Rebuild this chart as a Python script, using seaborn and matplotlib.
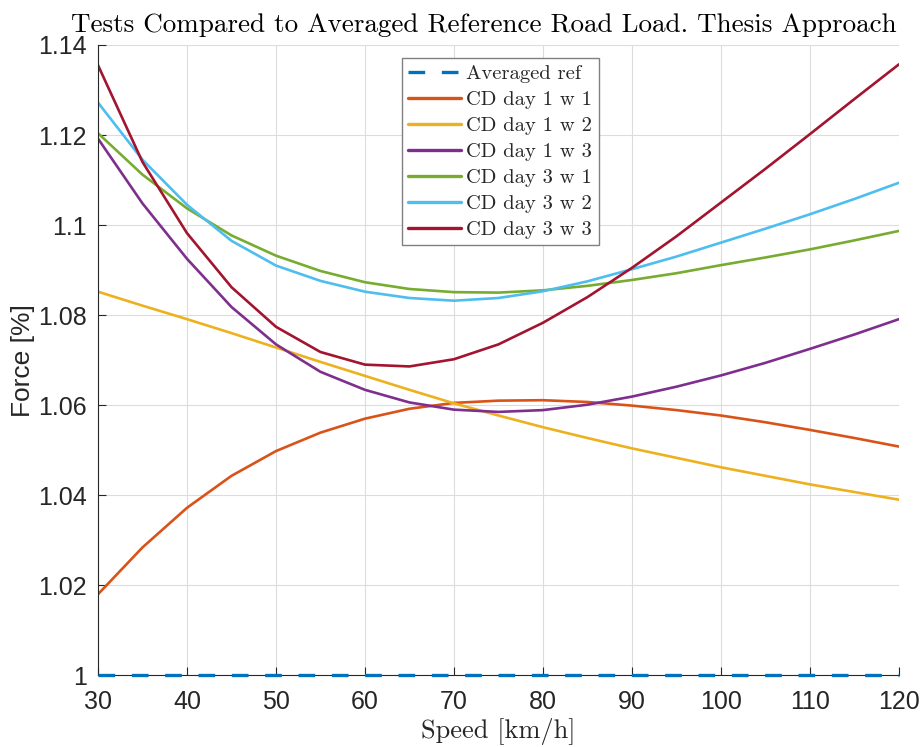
import numpy as np
import pandas as pd
import matplotlib
matplotlib.use("Agg")
import matplotlib.pyplot as plt
import seaborn as sns

speed = [30, 35, 40, 45, 50, 55, 60, 65, 70, 75, 80, 85, 90, 95, 100, 105, 110, 115, 120]

averaged_ref = [1.0] * 19
cd_day1_w1 = [1.0180, 1.0284, 1.0372, 1.0443, 1.0498, 1.0539, 1.0570, 1.0592, 1.0605, 1.0610,
              1.0611, 1.0607, 1.0599, 1.0589, 1.0577, 1.0562, 1.0545, 1.0527, 1.0508]
cd_day1_w2 = [1.0852, 1.0821, 1.0791, 1.0760, 1.0728, 1.0696, 1.0665, 1.0634, 1.0604, 1.0577,
              1.0551, 1.0527, 1.0504, 1.0483, 1.0462, 1.0443, 1.0424, 1.0407, 1.0390]
cd_day1_w3 = [1.1192, 1.1048, 1.0925, 1.0818, 1.0735, 1.0674, 1.0634, 1.0606, 1.0590, 1.0585,
              1.0589, 1.0601, 1.0619, 1.0641, 1.0666, 1.0694, 1.0725, 1.0757, 1.0791]
cd_day3_w1 = [1.1204, 1.1112, 1.1037, 1.0977, 1.0932, 1.0898, 1.0873, 1.0858, 1.0851, 1.0850,
              1.0855, 1.0865, 1.0878, 1.0893, 1.0911, 1.0928, 1.0946, 1.0966, 1.0987]
cd_day3_w2 = [1.1272, 1.1145, 1.1045, 1.0965, 1.0910, 1.0876, 1.0852, 1.0838, 1.0832, 1.0838,
              1.0853, 1.0875, 1.0902, 1.0930, 1.0961, 1.0992, 1.1024, 1.1058, 1.1094]
cd_day3_w3 = [1.1355, 1.1140, 1.0982, 1.0862, 1.0774, 1.0718, 1.0690, 1.0686, 1.0702, 1.0735,
              1.0783, 1.0840, 1.0905, 1.0975, 1.1050, 1.1125, 1.1202, 1.1280, 1.1357]

series_names = ["Averaged ref", "CD day 1 w 1", "CD day 1 w 2", "CD day 1 w 3",
                "CD day 3 w 1", "CD day 3 w 2", "CD day 3 w 3"]
series_values = [averaged_ref, cd_day1_w1, cd_day1_w2, cd_day1_w3,
                 cd_day3_w1, cd_day3_w2, cd_day3_w3]
colors = ["#0072BD", "#D95319", "#EDB120", "#7E2F8E", "#77AC30", "#4DBEEE", "#A2142F"]

y_ticks = [1.0, 1.02, 1.04, 1.06, 1.08, 1.1, 1.12, 1.14]
y_tick_labels = ["1", "1.02", "1.04", "1.06", "1.08", "1.1", "1.12", "1.14"]
x_ticks = [30, 40, 50, 60, 70, 80, 90, 100, 110, 120]

rows = []
for name, vals in zip(series_names, series_values):
    for s, v in zip(speed, vals):
        rows.append({"Speed": s, "Force": v, "Series": name})
df = pd.DataFrame(rows)

sns.set_theme(style="white")
plt.rcParams["font.family"] = ["Liberation Sans", "DejaVu Sans"]

fig = plt.figure(figsize=(9.22, 7.47), dpi=100)
ax = fig.add_axes([0.1063, 0.096, 0.975 - 0.1063, 0.9398 - 0.096])

palette = dict(zip(series_names, colors))
dashes = {n: "" for n in series_names}
dashes["Averaged ref"] = (5, 5)
sns.lineplot(data=df, x="Speed", y="Force", hue="Series", style="Series",
             hue_order=series_names, style_order=series_names,
             palette=palette, dashes=dashes, linewidth=1.9, ax=ax, legend=True)
ref_line = ax.get_lines()[0]
ref_line.set_linewidth(2.4)
ref_line.set_zorder(5)
ref_line.set_clip_on(False)

ax.set_xlim(30, 120)
ax.set_ylim(1.0, 1.14)
ax.set_xticks(x_ticks)
ax.set_xticklabels([str(t) for t in x_ticks])
ax.set_yticks(y_ticks)
ax.set_yticklabels(y_tick_labels)

ax.grid(True, color="#dcdcdc", linewidth=0.8)
ax.set_axisbelow(True)
for side in ["top", "right"]:
    ax.spines[side].set_visible(False)
for side in ["left", "bottom"]:
    ax.spines[side].set_color("#262626")
    ax.spines[side].set_linewidth(0.8)

ax.tick_params(axis="both", which="major", direction="in", length=6, width=0.8,
               color="#262626", labelcolor="#262626", labelsize=18,
               left=True, bottom=True, top=False, right=False)
ax.tick_params(axis="x", pad=10.5)
ax.tick_params(axis="y", pad=8)

ax.set_xlabel("Speed [km/h]", fontfamily="cmr10", fontsize=19, color="#262626", labelpad=3)
ax.set_ylabel("Force [%]", fontsize=19, color="#262626", labelpad=2.5)
ax.set_title("Tests Compared to Averaged Reference Road Load. Thesis Approach",
             fontfamily="cmr10", fontsize=19.5, color="#000000", pad=9, x=0.482)

handles, labels = ax.get_legend_handles_labels()
leg = ax.legend(handles, labels, loc="upper center", bbox_to_anchor=(0.502, 0.979),
                prop={"family": "cmr10", "size": 14.8}, frameon=True, fancybox=False,
                edgecolor="#808080", framealpha=1, handlelength=2.6, handletextpad=0.25,
                labelspacing=0.37, borderpad=0.3, borderaxespad=0)
leg.get_frame().set_linewidth(1.0)
for h in leg.get_lines():
    h.set_linewidth(2.4)

fig.savefig("out.png", dpi=100)
